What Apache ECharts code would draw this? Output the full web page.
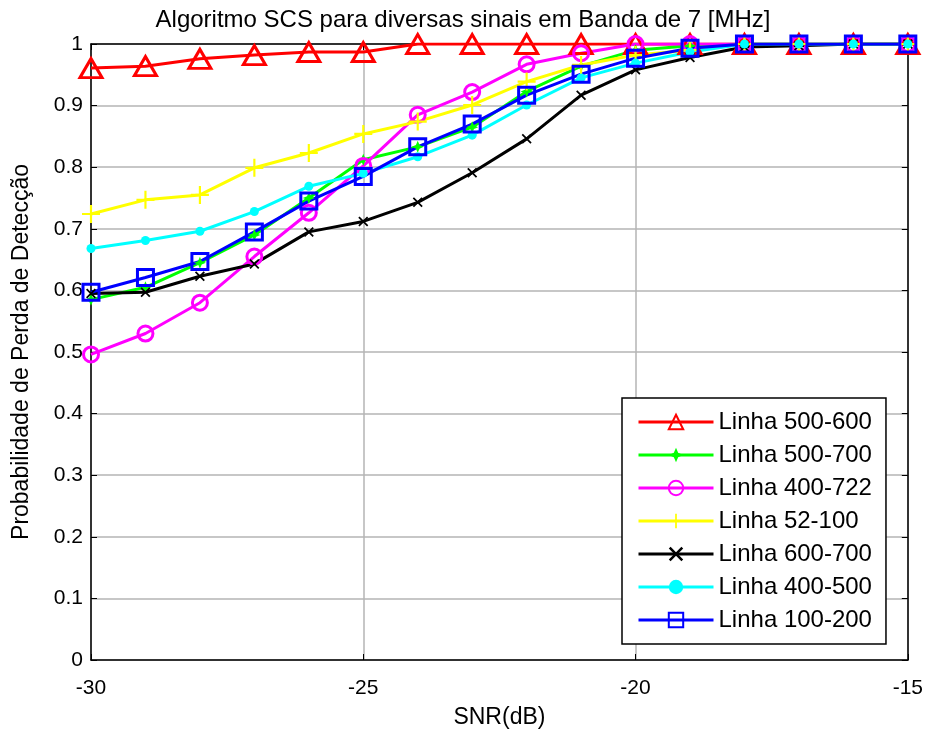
<!DOCTYPE html>
<html>
<head>
<meta charset="utf-8">
<script src="https://cdn.jsdelivr.net/npm/echarts@6/dist/echarts.min.js"></script>
<style>html,body{margin:0;padding:0;background:#fff;}#c{width:926px;height:734px;}</style>
</head>
<body>
<div id="c"></div>
<script>
var snr = [-30,-29,-28,-27,-26,-25,-24,-23,-22,-21,-20,-19,-18,-17,-16,-15];
var linha500_600 = [0.961,0.964,0.976,0.982,0.987,0.987,1,1,1,1,1,1,1,1,1,1];
var linha500_700 = [0.585,0.605,0.645,0.690,0.750,0.812,0.833,0.865,0.923,0.964,0.990,0.997,1,1,1,1];
var linha400_722 = [0.496,0.530,0.580,0.655,0.726,0.802,0.885,0.922,0.967,0.985,1,1,1,1,1,1];
var linha52_100  = [0.724,0.747,0.755,0.799,0.823,0.854,0.874,0.901,0.939,0.966,0.982,0.990,1,1,1,1];
var linha600_700 = [0.595,0.597,0.623,0.643,0.695,0.712,0.743,0.791,0.846,0.917,0.958,0.978,0.995,0.997,1,1];
var linha400_500 = [0.668,0.681,0.696,0.728,0.769,0.790,0.817,0.852,0.901,0.945,0.969,0.987,1,1,1,1];
var linha100_200 = [0.597,0.621,0.647,0.695,0.745,0.785,0.833,0.870,0.917,0.951,0.977,0.993,1,1,1,1];
var seriesNames = ['Linha 500-600','Linha 500-700','Linha 400-722','Linha 52-100','Linha 600-700','Linha 400-500','Linha 100-200'];

function pairs(arr){ return snr.map(function(x,i){ return [x, arr[i]]; }); }

var plusPath = 'path://M-0.12,-1 L0.12,-1 L0.12,-0.12 L1,-0.12 L1,0.12 L0.12,0.12 L0.12,1 L-0.12,1 L-0.12,0.12 L-1,0.12 L-1,-0.12 L-0.12,-0.12 Z';
var xPath = 'path://M-1,-0.75 L-0.75,-1 L0,-0.25 L0.75,-1 L1,-0.75 L0.25,0 L1,0.75 L0.75,1 L0,0.25 L-0.75,1 L-1,0.75 L-0.25,0 Z';
var starPath = 'path://M0,-1 L0.3,-0.3 L1,0 L0.3,0.3 L0,1 L-0.3,0.3 L-1,0 L-0.3,-0.3 Z';

function mk(name, data, color, symbol, size, hollow){
  return {
    name: name, type: 'line', data: pairs(data),
    symbol: symbol, symbolSize: size, showSymbol: true,
    lineStyle: {color: color, width: 3},
    itemStyle: hollow ? {color: 'rgba(255,255,255,0)', borderColor: color, borderWidth: 3}
                      : {color: color, borderWidth: 0},
    emphasis: {disabled: true},
    animation: false
  };
}

var chart = echarts.init(document.getElementById('c'));
var font = 'Liberation Sans, Arial, sans-serif';
chart.setOption({
  backgroundColor: '#fff',
  animation: false,
  title: {
    text: 'Algoritmo SCS para diversas sinais em Banda de 7 [MHz]',
    left: 'center', top: 3,
    textStyle: {fontFamily: font, fontSize: 24, fontWeight: 'normal', color: '#000'}
  },
  grid: {left: 91, right: 14, top: 44, bottom: 73},
  legend: {
    orient: 'vertical',
    left: 622, top: 398,
    data: seriesNames,
    backgroundColor: '#fff',
    borderColor: '#000', borderWidth: 1.5,
    padding: [12, 14, 12, 15],
    itemWidth: 75, itemHeight: 18, itemGap: 9,
    lineStyle: {width: 3},
    textStyle: {fontFamily: font, fontSize: 24, color: '#000'},
    selectedMode: false
  },
  xAxis: [{
    type: 'value', min: -30, max: -15, interval: 5,
    name: 'SNR(dB)', nameLocation: 'middle', nameGap: 46,
    nameTextStyle: {fontFamily: font, fontSize: 23, color: '#000'},
    axisLine: {show: true, onZero: false, lineStyle: {color: '#000', width: 1.5}},
    axisTick: {show: true, inside: true, length: 6, lineStyle: {color: '#000'}},
    axisLabel: {fontFamily: font, fontSize: 21, color: '#000', margin: 18},
    splitLine: {show: true, lineStyle: {color: '#b4b4b4', width: 1.5}}
  },{
    type: 'value', min: -30, max: -15, interval: 5, position: 'top',
    axisLine: {show: true, onZero: false, lineStyle: {color: '#000', width: 1.5}},
    axisTick: {show: true, inside: true, length: 6, lineStyle: {color: '#000'}},
    axisLabel: {show: false}, splitLine: {show: false}
  }],
  yAxis: [{
    type: 'value', min: 0, max: 1, interval: 0.1,
    name: 'Probabilidade de Perda de Detecção', nameLocation: 'middle', nameGap: 58,
    nameTextStyle: {fontFamily: font, fontSize: 23, color: '#000'},
    axisLine: {show: true, onZero: false, lineStyle: {color: '#000', width: 1.5}},
    axisTick: {show: true, inside: true, length: 6, lineStyle: {color: '#000'}},
    axisLabel: {fontFamily: font, fontSize: 21, color: '#000', margin: 8,
      formatter: function(v){ return (Math.round(v*10)/10).toString(); }},
    splitLine: {show: true, lineStyle: {color: '#b4b4b4', width: 1.5}}
  },{
    type: 'value', min: 0, max: 1, interval: 0.1, position: 'right',
    axisLine: {show: true, onZero: false, lineStyle: {color: '#000', width: 1.5}},
    axisTick: {show: true, inside: true, length: 6, lineStyle: {color: '#000'}},
    axisLabel: {show: false}, splitLine: {show: false}
  }],
  series: [
    mk(seriesNames[0], linha500_600, '#ff0000', 'triangle', [22,19], true),
    mk(seriesNames[1], linha500_700, '#00ff00', starPath, 12, false),
    mk(seriesNames[2], linha400_722, '#ff00ff', 'circle', 15, true),
    mk(seriesNames[3], linha52_100, '#ffff00', plusPath, 18, false),
    mk(seriesNames[4], linha600_700, '#000000', xPath, 10, false),
    mk(seriesNames[5], linha400_500, '#00ffff', 'circle', 9, false),
    mk(seriesNames[6], linha100_200, '#0000ff', 'rect', 16, true)
  ]
});
</script>
</body>
</html>
